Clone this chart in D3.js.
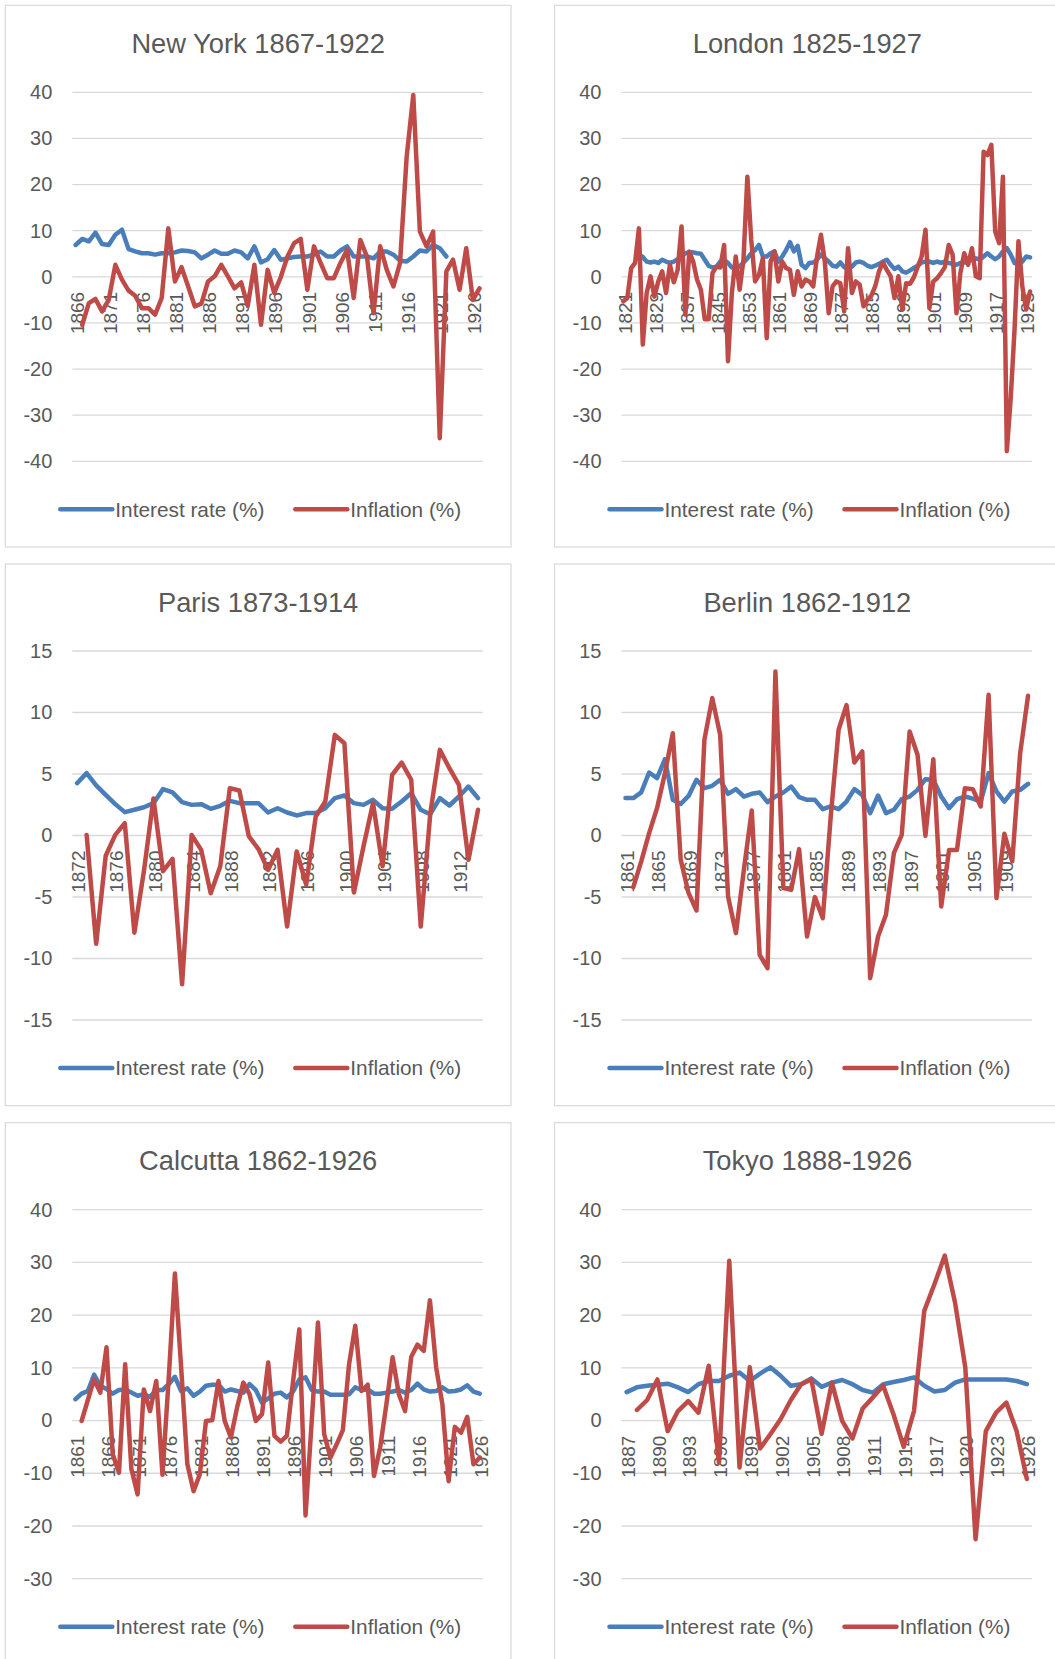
<!DOCTYPE html>
<html><head><meta charset="utf-8">
<script src="https://cdn.jsdelivr.net/npm/d3@7"></script>
<style>
body{margin:0;background:#fff}
svg{display:block}
text{font-family:"Liberation Sans",Arial,sans-serif;fill:#595959}
</style>
</head><body>
<svg id="chart" width="1055" height="1659"></svg>
<script>
// ---------- categories ----------
const nyYears = d3.range(1866, 1928);
const londonYears = d3.range(1821, 1927);
const parisYears = d3.range(1872, 1915);
const berlinYears = d3.range(1861, 1913);
const calcuttaYears = d3.range(1861, 1927);
const tokyoYears = d3.range(1887, 1927);

// ---------- tick labels ----------
const nyTicks = [1866,1871,1876,1881,1886,1891,1896,1901,1906,1911,1916,1921,1926];
const londonTicks = [1821,1829,1837,1845,1853,1861,1869,1877,1885,1893,1901,1909,1917,1925];
const parisTicks = [1872,1876,1880,1884,1888,1892,1896,1900,1904,1908,1912];
const berlinTicks = [1861,1865,1869,1873,1877,1881,1885,1889,1893,1897,1901,1905,1909];
const calcuttaTicks = [1861,1866,1871,1876,1881,1886,1891,1896,1901,1906,1911,1916,1921,1926];
const tokyoTicks = [1887,1890,1893,1896,1899,1902,1905,1908,1911,1914,1917,1920,1923,1926];
const yTicksWide = [-40,-30,-20,-10,0,10,20,30,40];
const yTicksNarrow = [-15,-10,-5,0,5,10,15];
const yTicksMid = [-30,-20,-10,0,10,20,30,40];

// ---------- series ----------
const nyRate = [6.9,8.2,7.7,9.6,7.1,6.9,9.1,10.2,6.0,5.5,5.1,5.1,4.8,5.1,5.1,5.3,5.7,5.6,5.3,4.0,4.8,5.7,5.0,5.0,5.7,5.3,4.0,6.6,3.1,3.8,5.8,3.7,4.0,4.3,4.4,4.4,4.8,5.5,4.4,4.4,5.7,6.6,4.4,4.4,4.4,4.0,5.5,5.5,4.8,3.5,3.3,4.4,5.7,5.5,6.9,6.2,4.4,null,null,null,null,null];
const nyInfl = [null,-10.4,-5.7,-4.8,-7.5,-5.0,2.6,-0.6,-3.0,-4.1,-6.8,-6.8,-8.2,-4.6,10.5,-1.0,2.1,-2.1,-6.4,-5.8,-1.0,0.1,2.6,0.1,-2.5,-1.2,-6.3,2.6,-10.4,1.5,-3.5,0.0,4.4,7.3,8.2,-2.8,6.6,3.0,-0.3,-0.3,3.0,5.8,-4.6,8.0,4.4,-7.9,6.6,1.5,-2.1,3.0,26.0,39.4,9.8,6.6,9.8,-35.0,1.2,3.7,-2.8,6.2,-5.0,-2.5];

const londonRate = [null,null,null,null,4.8,4.3,3.3,3.1,3.3,3.0,3.7,3.3,3.0,3.3,3.8,4.4,5.1,5.3,5.3,5.1,5.0,3.7,2.4,2.0,2.2,3.3,3.7,3.0,2.0,1.9,2.2,3.1,4.0,5.1,5.8,6.9,4.4,4.4,5.1,5.5,3.3,4.4,5.8,7.5,5.5,6.7,2.6,1.9,3.0,3.1,3.7,4.8,4.0,3.3,2.4,2.2,3.1,2.1,1.7,2.2,3.1,3.3,3.0,2.4,2.1,2.4,2.8,3.3,3.7,2.6,1.7,2.2,1.2,0.9,1.4,1.9,2.4,3.1,3.3,3.3,3.0,3.3,3.0,3.3,3.0,2.8,2.6,3.0,3.1,3.3,3.7,4.0,3.7,4.4,5.1,4.4,3.8,4.4,5.5,6.2,4.8,3.0,2.6,3.3,4.4,4.2];
const londonInfl = [-5.3,-4.6,1.9,3.0,10.5,-14.7,-3.5,0.1,-4.3,-1.0,1.2,-3.5,2.6,-1.2,1.5,10.9,-8.2,5.5,3.3,-0.6,-2.8,-9.2,-9.2,0.8,2.2,2.0,6.9,-18.3,-3.5,4.4,-2.8,3.7,21.7,8.0,-1.0,0.4,4.0,-13.3,3.3,5.5,-1.0,3.3,1.9,1.5,-3.9,1.2,-2.1,-0.6,-1.0,-2.1,4.4,9.1,3.3,-7.9,-2.1,-1.0,-1.4,-7.5,6.2,-3.5,-1.0,-1.7,-6.4,-5.0,-4.1,-2.1,1.2,3.1,1.5,0.1,-4.6,0.1,-7.1,-1.4,-1.5,-0.1,2.2,4.4,10.2,-6.8,-1.0,-0.3,0.8,2.1,6.9,4.8,-7.9,0.8,5.1,2.6,6.2,0.1,-0.3,27.1,26.4,28.6,9.8,7.3,21.7,-37.8,-26.4,-11.3,7.7,-2.1,-7.1,-3.2];

const parisRate = [4.25,5.07,4.07,3.3,2.55,1.9,2.09,2.3,2.63,3.77,3.5,2.71,2.49,2.55,2.17,2.41,2.82,2.63,2.63,2.63,1.87,2.22,1.87,1.63,1.82,1.82,2.22,3.04,3.25,2.63,2.49,2.9,2.22,2.17,2.76,3.44,2.09,1.73,3.04,2.44,3.17,3.98,3.04];
const parisInfl = [null,0.05,-8.8,-1.65,0.05,1.0,-7.9,-2.9,3.0,-2.9,-1.9,-12.1,0.05,-1.17,-4.7,-2.5,3.85,3.66,-0.08,-1.1,-2.8,-1.17,-7.4,-1.3,-4.0,1.55,2.76,8.18,7.5,-4.63,-0.9,2.63,-2.5,4.93,5.93,4.53,-7.4,1.8,6.96,5.47,4.12,-1.98,2.09];

const berlinRate = [3.04,3.04,3.5,5.12,4.66,6.2,2.9,2.57,3.22,4.53,3.85,4.04,4.53,3.39,3.77,3.17,3.39,3.5,2.71,3.17,3.5,3.98,3.12,2.9,2.9,2.14,2.36,2.14,2.76,3.77,3.3,1.82,3.25,1.82,2.09,2.95,3.17,3.71,4.58,4.53,3.17,2.22,2.95,3.17,3.0,2.76,5.07,3.58,2.76,3.58,3.71,4.2];
const berlinInfl = [null,-4.2,-2.1,0.19,2.22,5.07,8.32,-1.98,-4.69,-6.1,7.78,11.17,8.18,-4.96,-7.94,-2.79,2.03,-9.7,-10.79,13.33,-4.28,-4.42,-1.11,-8.21,-5.01,-6.72,1.5,8.6,10.6,5.93,6.83,-11.6,-8.21,-6.45,-1.44,0.05,8.46,6.56,-0.03,6.2,-5.77,-1.17,-1.17,3.85,3.77,2.36,11.44,-5.09,0.14,-2.11,6.69,11.36];

const calcuttaRate = [4.05,5.1,5.6,8.7,6.6,6.0,5.1,5.8,5.9,5.3,4.7,5.0,4.5,5.8,5.8,6.9,8.3,5.6,6.1,4.7,5.5,6.6,6.8,6.8,5.5,5.9,5.6,5.3,6.9,5.8,3.4,4.2,5.1,5.3,4.4,5.5,7.8,8.2,5.8,5.5,5.5,4.9,4.9,4.9,5.0,6.3,5.8,5.9,5.1,5.1,5.3,5.5,5.8,5.3,5.8,7.0,5.9,5.5,5.6,6.3,5.5,5.6,5.9,6.7,5.5,5.1];
const calcuttaInfl = [null,-0.06,3.9,7.8,5.3,13.9,-6.4,-9.9,10.7,-9.2,-14.0,5.9,1.8,7.5,-10.3,8.0,27.9,10.1,-8.3,-13.4,-10.2,-0.06,0.06,7.5,-0.06,-3.2,2.5,7.2,5.0,-0.06,1.2,11.0,-2.9,-4.0,-2.9,7.5,17.3,-18.0,0.0,18.6,-2.6,-7.0,-4.5,-1.8,10.7,18.0,5.6,6.8,-10.5,-5.1,3.1,12.0,5.0,1.8,12.1,14.4,13.2,22.8,10.1,3.1,-11.5,-1.2,-2.3,0.7,-8.3,-7.0];

const tokyoRate = [5.4,6.3,6.6,6.8,7.0,6.3,5.4,6.9,7.5,7.5,8.5,9.1,7.5,8.9,10.1,8.5,6.6,6.9,8.0,6.4,7.2,7.7,6.9,5.8,5.3,6.9,7.3,7.7,8.2,6.6,5.5,5.8,7.2,7.8,7.8,7.8,7.8,7.8,7.5,6.9];
const tokyoInfl = [null,2.0,3.9,7.8,-2.0,1.8,3.7,1.5,10.4,-8.0,30.3,-8.9,10.1,-5.3,-2.6,0.25,3.9,6.9,7.8,-2.5,7.2,-0.06,-3.4,2.3,4.4,6.6,1.2,-5.0,1.8,20.8,25.9,31.3,22.4,10.1,-22.5,-2.0,1.5,3.4,-2.0,-11.1];

const seriesNames = ["Interest rate (%)", "Inflation (%)"];
const seriesColors = ["#4A7EBB", "#BE4B48"];

// ---------- layout ----------
const PW = 505.7, PH = 541.7;       // panel box
const PL = 67, PWd = 410.5;          // plot left / width inside panel
const PT = 87, PHt = 369;            // plot top / height inside panel

const panels = [
  {title:"New York 1867-1922", ox:5.3,   oy:5.3,    years:nyYears, rate:nyRate, infl:nyInfl, yt:yTicksWide, xt:nyTicks},
  {title:"London 1825-1927",   ox:554.5, oy:5.3,    years:londonYears, rate:londonRate, infl:londonInfl, yt:yTicksWide, xt:londonTicks},
  {title:"Paris 1873-1914",    ox:5.3,   oy:564,    years:parisYears, rate:parisRate, infl:parisInfl, yt:yTicksNarrow, xt:parisTicks},
  {title:"Berlin 1862-1912",   ox:554.5, oy:564,    years:berlinYears, rate:berlinRate, infl:berlinInfl, yt:yTicksNarrow, xt:berlinTicks},
  {title:"Calcutta 1862-1926", ox:5.3,   oy:1122.7, years:calcuttaYears, rate:calcuttaRate, infl:calcuttaInfl, yt:yTicksMid, xt:calcuttaTicks},
  {title:"Tokyo 1888-1926",    ox:554.5, oy:1122.7, years:tokyoYears, rate:tokyoRate, infl:tokyoInfl, yt:yTicksMid, xt:tokyoTicks}
];

const svg = d3.select("#chart");

panels.forEach(p => {
  const g = svg.append("g").attr("transform", `translate(${p.ox},${p.oy})`);
  g.append("rect").attr("x", 0).attr("y", 0).attr("width", PW).attr("height", PH)
    .attr("fill", "#fff").attr("stroke", "#d9d9d9").attr("stroke-width", 1.2);

  const x = d3.scaleBand().domain(p.years).range([PL, PL + PWd]).padding(0);
  const y = d3.scaleLinear().domain([d3.min(p.yt), d3.max(p.yt)]).range([PT + PHt, PT]);
  const cx = d => x(d) + x.bandwidth() / 2;

  // title
  g.append("text").attr("x", PW / 2).attr("y", 38).attr("dy", "0.35em")
    .attr("text-anchor", "middle").style("font-size", "27.3px").text(p.title);

  // gridlines
  g.append("g").selectAll("line").data(p.yt).join("line")
    .attr("x1", PL).attr("x2", PL + PWd)
    .attr("y1", d => y(d)).attr("y2", d => y(d))
    .attr("stroke", "#d9d9d9").attr("stroke-width", 1.3);

  // y axis
  const yAxis = d3.axisLeft(y).tickValues(p.yt).tickSize(0).tickPadding(20).tickFormat(d => String(d));
  const ya = g.append("g").attr("transform", `translate(${PL},0)`).call(yAxis);
  ya.select(".domain").remove();
  ya.selectAll("text").style("font-size", "20px").attr("fill", "#595959")
    .style("font-family", '"Liberation Sans",Arial,sans-serif');

  // x axis labels (rotated, at y=0)
  g.append("g").selectAll("text").data(p.xt).join("text")
    .attr("transform", d => `translate(${cx(d) + 1.5},${y(0) + 15}) rotate(-90)`)
    .attr("text-anchor", "end").attr("dy", "0.35em")
    .style("font-size", "19px").text(d => d);

  // lines
  [p.rate, p.infl].forEach((vals, k) => {
    const pts = p.years.map((yr, i) => ({yr, v: vals[i]}));
    const line = d3.line().defined(d => d.v !== null && d.v !== undefined)
      .x(d => cx(d.yr)).y(d => y(d.v));
    g.append("path").datum(pts).attr("d", line)
      .attr("fill", "none").attr("stroke", seriesColors[k])
      .attr("stroke-width", 4.5).attr("stroke-linejoin", "round").attr("stroke-linecap", "round");
  });

  // legend
  const lg = g.append("g").attr("transform", `translate(0,504)`);
  const lx = [55, 290];
  seriesNames.forEach((n, k) => {
    lg.append("line").attr("x1", lx[k]).attr("x2", lx[k] + 52).attr("y1", 0).attr("y2", 0)
      .attr("stroke", seriesColors[k]).attr("stroke-width", 4.5).attr("stroke-linecap", "round");
    lg.append("text").attr("x", lx[k] + 55).attr("y", 0).attr("dy", "0.35em")
      .style("font-size", "20.8px").text(n);
  });
});
</script>
</body></html>
